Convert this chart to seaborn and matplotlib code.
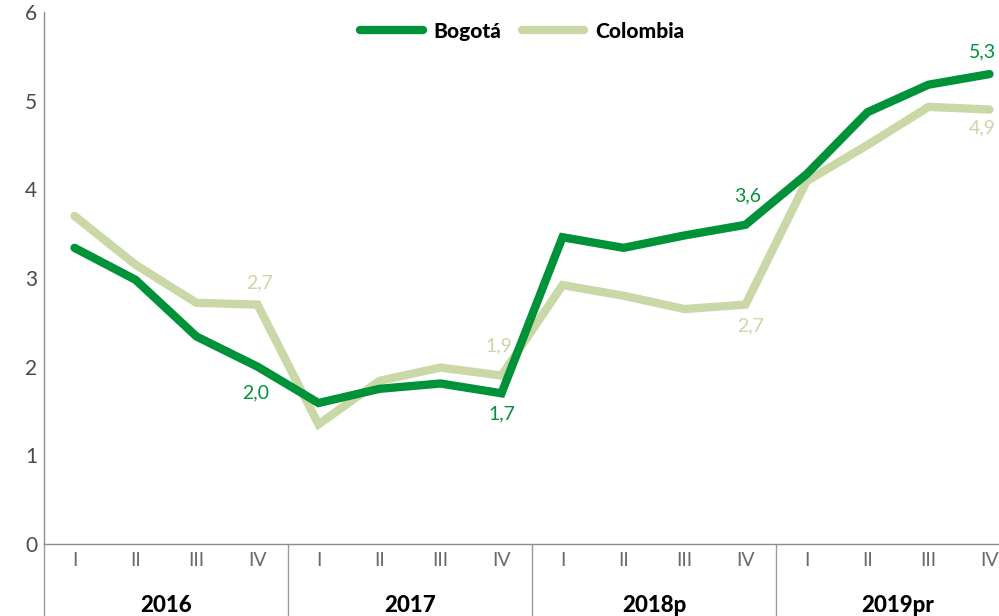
import matplotlib
matplotlib.use("Agg")
import matplotlib.pyplot as plt
import matplotlib.transforms as mtransforms
from matplotlib.lines import Line2D
import numpy as np
import pandas as pd
import seaborn as sns

# Quarterly series
years = ["2016", "2017", "2018p", "2019pr"]
quarters = ["I", "II", "III", "IV"]
bogota = [3.34, 2.98, 2.34, 2.0,
          1.59, 1.75, 1.81, 1.7,
          3.46, 3.34, 3.48, 3.6,
          4.17, 4.87, 5.18, 5.3]
colombia = [3.70, 3.15, 2.72, 2.7,
            1.35, 1.84, 1.99, 1.9,
            2.92, 2.80, 2.65, 2.7,
            4.09, 4.50, 4.93, 4.9]
series_names = ["Bogotá", "Colombia"]
colors = {"Bogotá": "#009239", "Colombia": "#cad7a6"}

# Labelled points: (series, index, label, horizontal / vertical pixel offset)
labels = [
    ("Colombia", 3, "2,7", 2, 22),
    ("Bogotá", 3, "2,0", -2, -26),
    ("Colombia", 7, "1,9", -3, 30),
    ("Bogotá", 7, "1,7", 0, -21),
    ("Bogotá", 11, "3,6", 2, 29),
    ("Colombia", 11, "2,7", 5, -21),
    ("Bogotá", 15, "5,3", -7, 22),
    ("Colombia", 15, "4,9", -7, -18),
]

n = len(bogota)
idx = np.arange(n)
df = pd.DataFrame({
    "idx": np.concatenate([idx, idx]),
    "valor": bogota + colombia,
    "serie": [series_names[0]] * n + [series_names[1]] * n,
})

sns.set_theme(style="white")
plt.rcParams["font.family"] = ["Lato", "DejaVu Sans"]

fig = plt.figure(figsize=(9.99, 6.16), dpi=100)
ax = fig.add_axes([44 / 999, 72 / 616, 976 / 999, 532 / 616])

# Draw Colombia first so Bogotá sits on top where they cross
for name in ["Colombia", "Bogotá"]:
    sns.lineplot(data=df[df["serie"] == name], x="idx", y="valor", ax=ax,
                 color=colors[name], linewidth=6.0, legend=False,
                 solid_capstyle="round", solid_joinstyle="miter")

ax.set_xlim(-0.5, n - 0.5)
ax.set_ylim(0, 6)
ax.set_xlabel("")
ax.set_ylabel("")

# Spines
for s in ["top", "right"]:
    ax.spines[s].set_visible(False)
for s in ["left", "bottom"]:
    ax.spines[s].set_color("#8c8c8c")
    ax.spines[s].set_linewidth(1.0)

# Y axis
ax.set_yticks(range(0, 7))
ax.set_yticklabels([str(v) for v in range(0, 7)], fontsize=15, color="#4a4a4a",
                   fontweight="normal")
ax.tick_params(axis="y", length=0, pad=5)

# X axis: quarter labels at centers, boundaries as minor ticks
ax.set_xticks(idx)
ax.set_xticklabels(quarters * len(years), fontsize=14, color="#6a6a6a",
                   fontweight="normal")
ax.tick_params(axis="x", which="major", length=0, pad=6)
ax.set_xticks(np.arange(-0.5, n, 1.0), minor=True)
ax.tick_params(axis="x", which="minor", length=28, width=1.0,
               color="#9a9a9a", direction="out")

# Year boundaries and labels
trans = mtransforms.blended_transform_factory(ax.transData, ax.transAxes)
for k in range(len(years) + 1):
    xb = -0.5 + 4 * k
    ax.plot([xb, xb], [0, -0.2], transform=trans, color="#9a9a9a",
            linewidth=1.0, clip_on=False)
for k, y in enumerate(years):
    ax.text(1.5 + 4 * k, -61 / 532, y, transform=trans, ha="center",
            va="center", fontsize=16, fontweight="black", color="#000000")

# Data labels
series_values = {"Bogotá": bogota, "Colombia": colombia}
for name, i, txt, dx, dy in labels:
    ax.annotate(txt, xy=(i, series_values[name][i]), xytext=(dx, dy),
                textcoords="offset pixels", ha="center", va="center",
                fontsize=14, color=colors[name], annotation_clip=False)

# Legend
handles = [Line2D([0], [0], color=colors[nm], linewidth=6.0,
                  solid_capstyle="round") for nm in series_names]
leg = ax.legend(handles, series_names, loc="center",
                bbox_to_anchor=(0.49, 0.964), ncol=2, frameon=False,
                handlelength=3.0, handletextpad=0.5, columnspacing=1.0,
                prop={"size": 15, "weight": "black"})
for t in leg.get_texts():
    t.set_color("#000000")

fig.savefig("out.png", dpi=100)
